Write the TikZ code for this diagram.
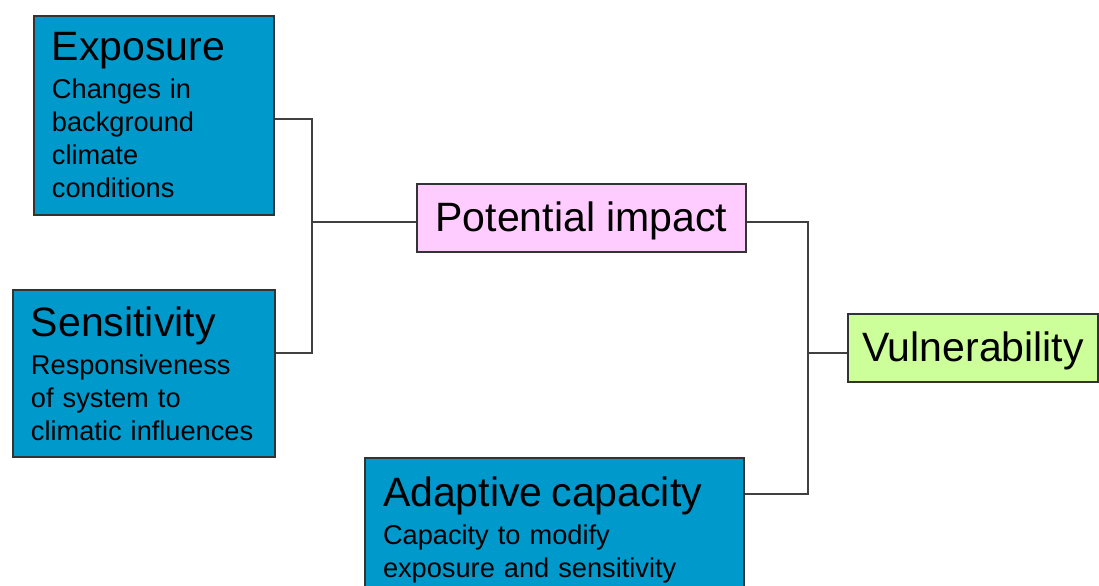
\documentclass[tikz,border=0pt]{standalone}
\usepackage{fontspec}
\setmainfont{Liberation Sans}
\usepackage{xcolor}
\usepackage{tikz}

\definecolor{factorblue}{RGB}{0,153,204}
\definecolor{impactpink}{RGB}{255,204,255}
\definecolor{vulngreen}{RGB}{204,255,153}

\newcommand{\boxhead}[1]{{\fontsize{20.5pt}{24pt}\selectfont #1}}

\begin{document}
\begin{tikzpicture}[x=0.5pt, y=-0.5pt, line width=1pt,
    factor/.style = {draw=black!80, fill=factorblue, anchor=north west, align=left,
        inner xsep=9pt, inner ysep=0pt, font=\fontsize{13.6pt}{16.5pt}\selectfont},
    result/.style = {draw=black!80, inner sep=0pt, minimum height=34pt,
        text height=18pt, text depth=4.3pt, font=\fontsize{20.5pt}{24pt}\selectfont},
    link/.style = {draw=black!75, line width=1pt}]
    \useasboundingbox (0,0) rectangle (1099,585);
    \clip (0,0) rectangle (1099,585);

    \node [factor, minimum width=120pt, text width=102pt, minimum height=99.5pt] (expo) at (33,15)
        {\boxhead{Exposure}\\[2.5pt] Changes~in\\ background\\ climate\\ conditions};
    \node [factor, minimum width=131pt, text width=113pt, minimum height=83.5pt] (sens) at (12,289)
        {\boxhead{Sensitivity}\\[2.5pt] Responsiveness\\ of~system~to\\ climatic~influences};
    \node [factor, minimum width=189.5pt, text width=171.5pt, minimum height=72pt] (adap) at (364,457)
        {\boxhead{Adaptive~capacity}\\[2.5pt] Capacity~to~modify\\ exposure~and~sensitivity};
    \node [result, fill=impactpink, minimum width=164.5pt] (pot) at (581.5,218) {Potential impact};
    \node [result, fill=vulngreen, minimum width=125pt] (vuln) at (973,348) {Vulnerability};

    \coordinate (jlt) at (312,119);
    \coordinate (jl) at (312,222);
    \coordinate (jlb) at (312,353);
    \coordinate (jrt) at (808,222);
    \coordinate (jr) at (808,353);
    \coordinate (jrb) at (808,494);

    \draw [link] (expo.east |- jlt) -- (jlt) -- (jlb) -- (sens.east |- jlb);
    \draw [link] (jl) -- (pot.west |- jl);
    \draw [link] (pot.east |- jrt) -- (jrt) -- (jrb) -- (adap.east |- jrb);
    \draw [link] (jr) -- (vuln.west |- jr);

\end{tikzpicture}
\end{document}
